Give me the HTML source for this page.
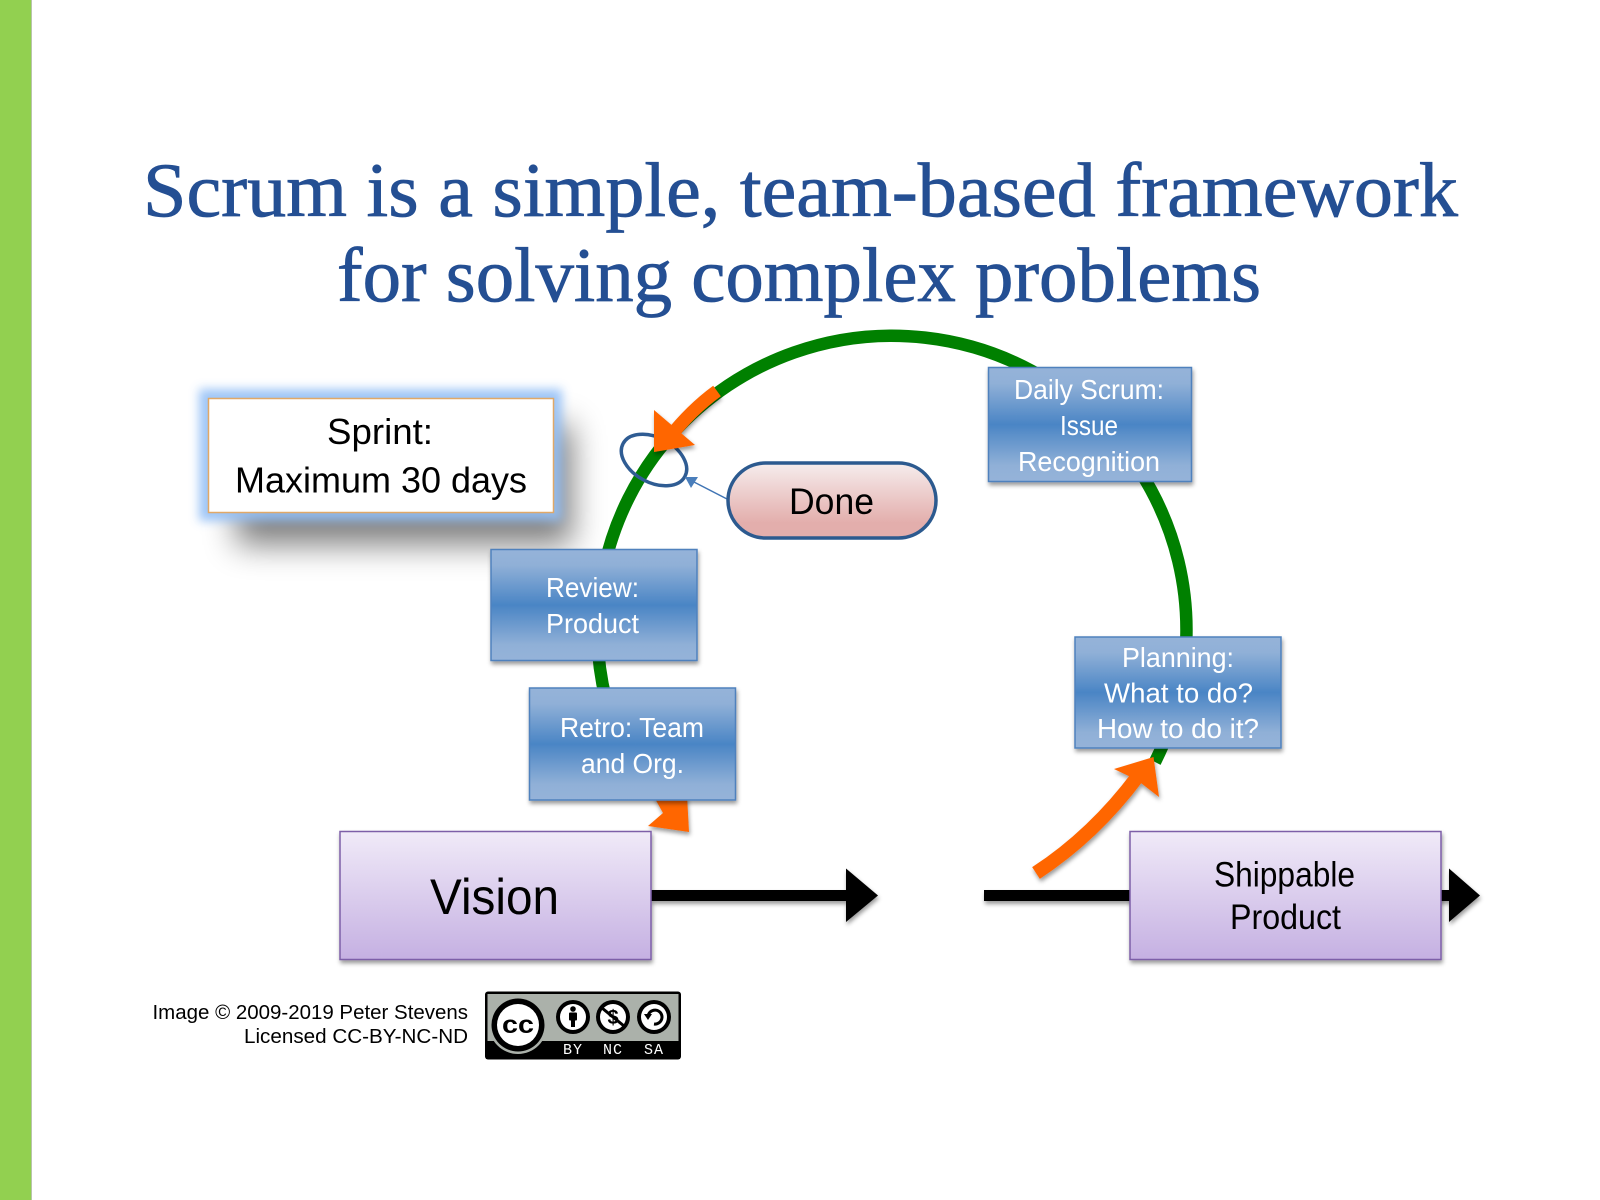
<!DOCTYPE html>
<html>
<head>
<meta charset="utf-8">
<style>
html,body{margin:0;padding:0;background:#fff;width:1600px;height:1200px;overflow:hidden}
svg{display:block}
text{font-family:"Liberation Sans",sans-serif}
.t{font-family:"Liberation Serif",serif;fill:#244f93;stroke:#244f93;stroke-width:.8px;font-size:77px}
.w{fill:#fff;font-size:28px}
.k{fill:#000}
.m{font-family:"Liberation Mono",monospace;fill:#fff;font-size:15px;text-anchor:middle;letter-spacing:1px}
</style>
</head>
<body>
<svg width="1600" height="1200" viewBox="0 0 1600 1200" xmlns="http://www.w3.org/2000/svg">
<defs>
<linearGradient id="blue" x1="0" y1="0" x2="0" y2="1"><stop offset="0" stop-color="#95b3d9"/><stop offset=".14" stop-color="#90b0d7"/><stop offset=".5" stop-color="#4a85c5"/><stop offset=".86" stop-color="#90b0d7"/><stop offset="1" stop-color="#95b3d9"/></linearGradient>
<linearGradient id="pur" x1="0" y1="0" x2="0" y2="1"><stop offset="0" stop-color="#f0eaf8"/><stop offset="1" stop-color="#c5b0e2"/></linearGradient>
<linearGradient id="pink" x1="0" y1="0" x2="0" y2="1"><stop offset="0" stop-color="#f6eded"/><stop offset=".8" stop-color="#e3aeac"/><stop offset="1" stop-color="#e3aeac"/></linearGradient>
<filter id="ds" x="-20%" y="-20%" width="140%" height="140%"><feDropShadow dx="1" dy="3" stdDeviation="2" flood-color="#000" flood-opacity=".4"/></filter>
<filter id="b9" x="-30%" y="-50%" width="160%" height="200%"><feGaussianBlur stdDeviation="16"/></filter>
<filter id="b5" x="-30%" y="-50%" width="160%" height="200%"><feGaussianBlur stdDeviation="5"/></filter>
</defs>

<rect x="0" y="0" width="32" height="1200" fill="#92d050"/>
<rect x="31" y="0" width="1" height="1200" fill="#b9c4ac"/>

<text class="t" x="143" y="216" textLength="1315" lengthAdjust="spacingAndGlyphs">Scrum is a simple, team-based framework</text>
<text class="t" x="337" y="301" textLength="924" lengthAdjust="spacingAndGlyphs">for solving complex problems</text>

<!-- Sprint -->
<rect x="236" y="425" width="336" height="120" fill="#000" opacity=".5" filter="url(#b9)"/>
<rect x="199" y="389" width="363" height="132" fill="#94c0f6" opacity=".9" filter="url(#b5)"/>
<rect x="208.5" y="398.5" width="345" height="114" fill="#fff" stroke="#e0a868" stroke-width="1.5"/>
<text class="k" x="327" y="444" font-size="36" textLength="106" lengthAdjust="spacingAndGlyphs">Sprint:</text>
<text class="k" x="235" y="492.5" font-size="36" textLength="292" lengthAdjust="spacingAndGlyphs">Maximum 30 days</text>

<!-- Green cycle -->
<path d="M1155 762 A294.5 294 0 1 0 606 700" fill="none" stroke="#008000" stroke-width="12.5"/>

<!-- Ellipse -->
<ellipse cx="654" cy="460" rx="35" ry="22.5" transform="rotate(28 654 460)" fill="none" stroke="#2f5c93" stroke-width="3.5"/>

<!-- Blue connector -->
<line x1="727" y1="499" x2="692" y2="481" stroke="#3f74b4" stroke-width="1.5"/>
<polygon points="685,477 698,477 691,488" fill="#4a7ebb"/>

<!-- Orange top arrow -->
<g filter="url(#ds)">
<path d="M717 391 Q691 410 669 438" fill="none" stroke="#ff6600" stroke-width="13"/>
<polygon points="654,410 695,445 654,452" fill="#ff6600"/>
</g>

<!-- Done -->
<rect x="728" y="463" width="208" height="75" rx="37.5" fill="url(#pink)" stroke="#2c5a8f" stroke-width="3.5"/>
<text class="k" x="789" y="514" font-size="37" textLength="85" lengthAdjust="spacingAndGlyphs">Done</text>

<!-- Review -->
<rect x="491" y="549.5" width="206" height="111" fill="url(#blue)" stroke="#4f81bd" stroke-width="1.5" filter="url(#ds)"/>
<text class="w" x="546" y="597" textLength="93" lengthAdjust="spacingAndGlyphs">Review:</text>
<text class="w" x="546" y="633" textLength="93" lengthAdjust="spacingAndGlyphs">Product</text>

<!-- Orange lower-left arrow -->
<polygon points="653,795 663,813 648,826 689,832 687,795" fill="#ff6600" filter="url(#ds)"/>

<!-- Retro -->
<rect x="529.5" y="688" width="206" height="112" fill="url(#blue)" stroke="#4f81bd" stroke-width="1.5" filter="url(#ds)"/>
<text class="w" x="560" y="737" textLength="144" lengthAdjust="spacingAndGlyphs">Retro: Team</text>
<text class="w" x="581" y="773" textLength="103" lengthAdjust="spacingAndGlyphs">and Org.</text>

<!-- Daily -->
<rect x="988.5" y="367.5" width="203" height="114" fill="url(#blue)" stroke="#4f81bd" stroke-width="1.5" filter="url(#ds)"/>
<text class="w" x="1014" y="399" textLength="150" lengthAdjust="spacingAndGlyphs">Daily Scrum:</text>
<text class="w" x="1060" y="435" textLength="58" lengthAdjust="spacingAndGlyphs">Issue</text>
<text class="w" x="1018" y="471" textLength="142" lengthAdjust="spacingAndGlyphs">Recognition</text>

<!-- Planning -->
<rect x="1075" y="637" width="206" height="111" fill="url(#blue)" stroke="#4f81bd" stroke-width="1.5" filter="url(#ds)"/>
<text class="w" x="1122" y="667" textLength="112" lengthAdjust="spacingAndGlyphs">Planning:</text>
<text class="w" x="1104" y="702.5" textLength="149" lengthAdjust="spacingAndGlyphs">What to do?</text>
<text class="w" x="1097" y="738" textLength="162" lengthAdjust="spacingAndGlyphs">How to do it?</text>

<!-- Black arrows -->
<g filter="url(#ds)">
<rect x="651" y="890" width="196" height="11" fill="#000"/>
<polygon points="846,868.5 878,895.5 846,922" fill="#000"/>
<rect x="984" y="890" width="150" height="11" fill="#000"/>
<rect x="1438" y="890" width="14" height="11" fill="#000"/>
<polygon points="1449,868.5 1480,895.5 1449,922" fill="#000"/>
</g>

<!-- Orange lower-right arrow -->
<g filter="url(#ds)">
<path d="M1036 873 Q1094 835 1138 776" fill="none" stroke="#ff6600" stroke-width="14"/>
<polygon points="1114,769 1153.5,757 1159,797 1137,780" fill="#ff6600"/>
</g>

<!-- Vision -->
<rect x="340" y="831.5" width="311" height="128" fill="url(#pur)" stroke="#7d5fa8" stroke-width="1.5" filter="url(#ds)"/>
<text class="k" x="430" y="914" font-size="50" textLength="129" lengthAdjust="spacingAndGlyphs">Vision</text>

<!-- Shippable -->
<rect x="1130" y="831.5" width="311" height="128" fill="url(#pur)" stroke="#7d5fa8" stroke-width="1.5" filter="url(#ds)"/>
<text class="k" x="1214" y="886.5" font-size="35" textLength="141" lengthAdjust="spacingAndGlyphs">Shippable</text>
<text class="k" x="1230" y="929" font-size="35" textLength="111" lengthAdjust="spacingAndGlyphs">Product</text>

<!-- Caption -->
<text class="k" x="152.5" y="1019" font-size="20.5" textLength="315.5" lengthAdjust="spacingAndGlyphs">Image © 2009-2019 Peter Stevens</text>
<text class="k" x="244" y="1043" font-size="20.5" textLength="224" lengthAdjust="spacingAndGlyphs">Licensed CC-BY-NC-ND</text>

<!-- CC badge -->
<rect x="485" y="991.5" width="196" height="68" rx="3" fill="#000"/>
<rect x="487.5" y="994" width="191" height="47" fill="#abb1aa"/>
<rect x="487.5" y="1041" width="30" height="16" fill="#000"/>
<circle cx="518" cy="1025" r="29" fill="#abb1aa"/>
<circle cx="518" cy="1025" r="26.5" fill="#000"/>
<circle cx="518" cy="1025" r="21" fill="#fff"/>
<text x="518" y="1033" font-size="25" font-weight="bold" text-anchor="middle" fill="#000" textLength="32" lengthAdjust="spacingAndGlyphs">cc</text>
<g>
<circle cx="573" cy="1017" r="17" fill="#000"/><circle cx="573" cy="1017" r="13" fill="#fff"/>
<circle cx="573" cy="1009" r="2.8" fill="#000"/><rect x="569" y="1012.5" width="8" height="8" rx="1" fill="#000"/><rect x="571" y="1019" width="4" height="8" fill="#000"/>
<circle cx="613" cy="1017" r="17" fill="#000"/><circle cx="613" cy="1017" r="13" fill="#fff"/>
<text x="613" y="1024" font-size="20" font-weight="bold" text-anchor="middle" fill="#000">$</text>
<line x1="602" y1="1008" x2="624" y2="1026" stroke="#000" stroke-width="3"/>
<circle cx="654" cy="1017" r="17" fill="#000"/><circle cx="654" cy="1017" r="13" fill="#fff"/>
<path d="M648 1017 A7 7 0 1 1 654 1024" fill="none" stroke="#000" stroke-width="3"/>
<polygon points="644,1014 652,1014 648,1020" fill="#000"/>
</g>
<text class="m" x="573" y="1054">BY</text>
<text class="m" x="613" y="1054">NC</text>
<text class="m" x="654" y="1054">SA</text>
</svg>
</body>
</html>
